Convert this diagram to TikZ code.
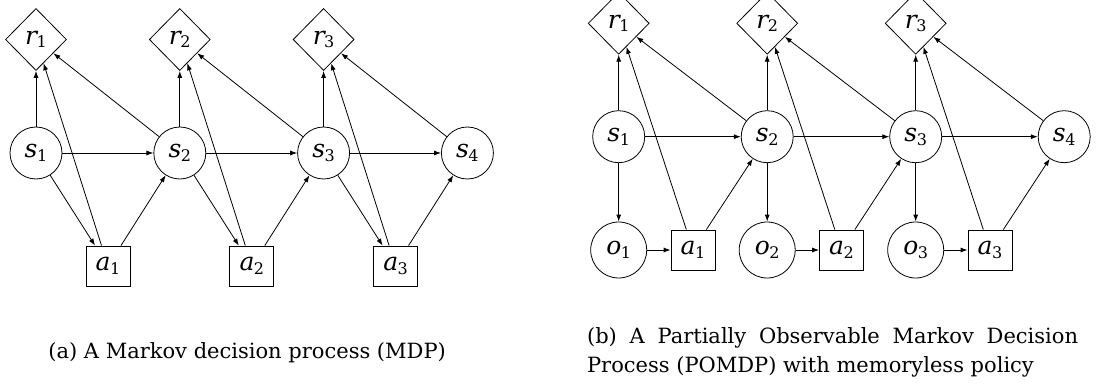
\documentclass[tikz,border=0pt]{standalone}
\usepackage{fontspec}
\setmainfont{DejaVu Serif}
\usetikzlibrary{shapes.geometric,arrows.meta}
\newcommand\vlab[2]{{\itshape #1}\kern-0.5pt\raisebox{-3.5pt}{\fontsize{16}{16}\selectfont #2}}
\begin{document}
\begin{tikzpicture}[x=1pt,y=-1pt,
  every node/.style={font=\fontsize{25}{25}\selectfont, inner sep=0pt, line width=0.8pt},
  st/.style={draw,circle,minimum size=52pt},
  ob/.style={draw,circle,minimum size=56pt},
  ac/.style={draw,rectangle,minimum width=44pt,minimum height=40pt},
  rw/.style={draw,diamond,minimum width=61pt,minimum height=62pt},
  ar/.style={-{Latex[length=7pt,width=5pt]},line width=0.8pt},
  captext/.style={font=\fontsize{21}{29}\selectfont}]
\useasboundingbox (0,0) rectangle (1101,385);
% (a) MDP
\foreach \i in {1,...,4} \node[st] (as\i) at ({36+143.8*(\i-1)},153) {\vlab{s}{\i}};
\foreach \i in {1,...,3} {
  \node[rw] (ar\i) at ({36+143.8*(\i-1)},39.5) {\vlab{r}{\i}};
  \node[ac] (aa\i) at ({108+143.8*(\i-1)},266) {\vlab{a}{\i}};
}
\foreach \i [evaluate=\i as \j using int(\i+1)] in {1,2,3} {
  \draw[ar] (as\i) -- (ar\i);
  \draw[ar] (aa\i) -- (ar\i);
  \draw[ar] (as\j) -- (ar\i);
  \draw[ar] (as\i) -- (as\j);
  \draw[ar] (as\i) -- (aa\i);
  \draw[ar] (aa\i) -- (as\j);
}
% (b) POMDP
\foreach \i in {1,...,4} \node[st] (bs\i) at ({618.7+148.5*(\i-1)},136.7) {\vlab{s}{\i}};
\foreach \i in {1,...,3} {
  \node[rw] (br\i) at ({618.7+148.5*(\i-1)},23.3) {\vlab{r}{\i}};
  \node[ob] (bo\i) at ({618.7+148.5*(\i-1)},250) {\vlab{o}{\i}};
  \node[ac] (ba\i) at ({693+148.5*(\i-1)},250) {\vlab{a}{\i}};
}
\foreach \i [evaluate=\i as \j using int(\i+1)] in {1,2,3} {
  \draw[ar] (bs\i) -- (br\i);
  \draw[ar] (ba\i) -- (br\i);
  \draw[ar] (bs\j) -- (br\i);
  \draw[ar] (bs\i) -- (bs\j);
  \draw[ar] (bs\i) -- (bo\i);
  \draw[ar] (bo\i) -- (ba\i);
  \draw[ar] (ba\i) -- (bs\j);
}
% captions
\node[captext,anchor=base west] (capa) at (48,358) {(a) A Markov decision process (MDP)};
\node[captext,anchor=base west] (capb1) at (586.7,343) {\makebox[491pt][s]{(b) A Partially Observable Markov Decision}};
\node[captext,anchor=base west] (capb2) at (586.7,372) {Process (POMDP) with memoryless policy};
\end{tikzpicture}
\end{document}
